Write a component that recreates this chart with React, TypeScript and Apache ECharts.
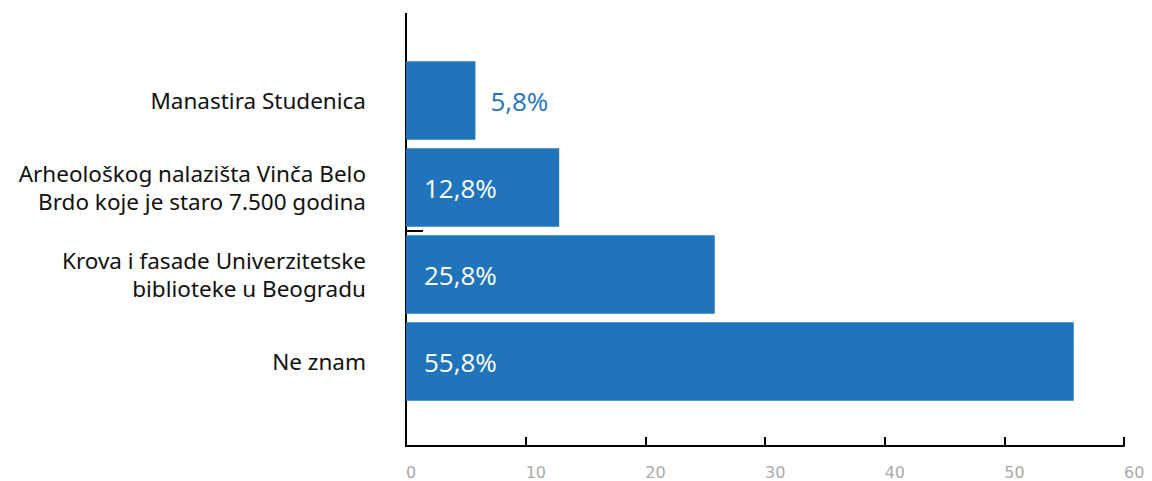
import React, { useEffect, useRef } from "react";
import * as echarts from "echarts";

const categories = [
  "Manastira Studenica",
  "Arheološkog nalazišta Vinča Belo\nBrdo koje je staro 7.500 godina",
  "Krova i fasade Univerzitetske\nbiblioteke u Beogradu",
  "Ne znam",
];
const values = [5.8, 12.8, 25.8, 55.8];
const insideLabel = [false, true, true, true];
const xTicks = [0, 10, 20, 30, 40, 50, 60];

const BLUE = "#1f74bb";

export default function App() {
  const ref = useRef<HTMLDivElement>(null);
  useEffect(() => {
    if (!ref.current) return;
    const chart = echarts.init(ref.current, null, { renderer: "svg" });
    const fmt = (v: number) => v.toFixed(1).replace(".", ",") + "%";
    const valueFont = { fontSize: 26, fontFamily: "Open Sans" };
    chart.setOption({
      animation: false,
      grid: { left: 406, right: 28, top: 57, height: 348, containLabel: false },
      xAxis: {
        type: "value",
        min: xTicks[0],
        max: xTicks[xTicks.length - 1],
        interval: 10,
        offset: 41,
        splitLine: { show: false },
        axisLine: { show: true, lineStyle: { color: "#000", width: 2 } },
        axisTick: { show: true, inside: true, length: 9, lineStyle: { color: "#000", width: 2 } },
        axisLabel: {
          color: "#aaaaaa",
          fontSize: 16,
          fontFamily: "DejaVu Sans",
          align: "left",
          margin: 18,
        },
      },
      yAxis: {
        type: "category",
        inverse: true,
        data: categories,
        axisLine: { show: false },
        axisTick: { show: false },
        axisLabel: {
          color: "#111",
          fontSize: 22.5,
          fontFamily: "Noto Sans",
          margin: 40,
          lineHeight: 28,
          align: "right",
        },
      },
      graphic: [
        {
          type: "line",
          z: 0,
          shape: { x1: 406, y1: 13, x2: 406, y2: 447 },
          style: { stroke: "#000", lineWidth: 2 },
        },
        {
          type: "line",
          z: 0,
          shape: { x1: 406, y1: 231, x2: 423, y2: 231 },
          style: { stroke: "#000", lineWidth: 2 },
        },
      ],
      series: [
        {
          type: "bar",
          z: 5,
          barCategoryGap: "10%",
          itemStyle: { color: BLUE },
          data: values.map((v, i) => ({
            value: v,
            label: insideLabel[i]
              ? {
                  show: true,
                  position: "insideLeft",
                  distance: 18,
                  color: "#fff",
                  ...valueFont,
                  formatter: () => fmt(v),
                }
              : {
                  show: true,
                  position: "right",
                  distance: 15,
                  color: BLUE,
                  ...valueFont,
                  formatter: () => fmt(v),
                },
          })),
        },
      ],
    });
    return () => chart.dispose();
  }, []);
  return (
    <div
      ref={ref}
      style={{ position: "fixed", left: 0, top: 0, width: 1152, height: 481, background: "#fff" }}
    />
  );
}
